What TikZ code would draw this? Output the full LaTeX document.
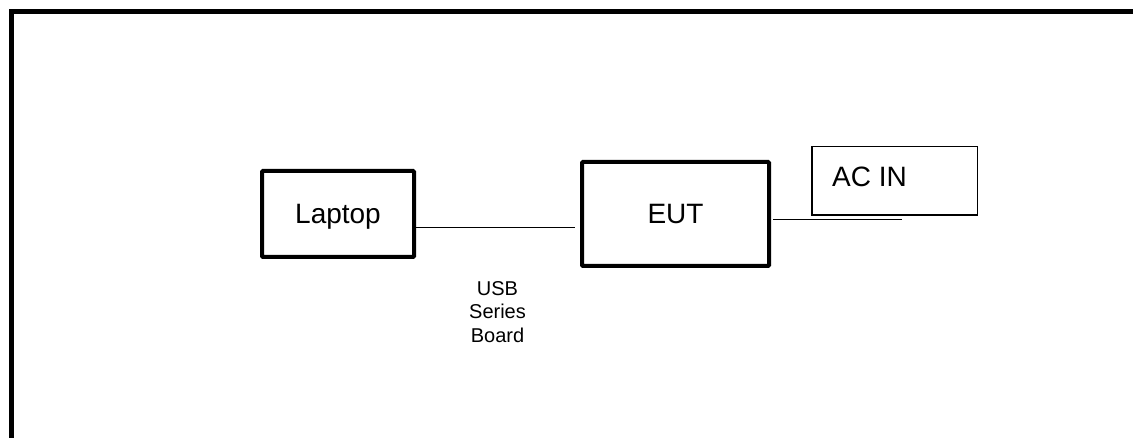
\documentclass[tikz,border=0pt]{standalone}
\usepackage{fontspec}
\setmainfont{Liberation Sans}
\begin{document}
\begin{tikzpicture}[x=1pt,y=1pt,
  heavybox/.style={draw, line width=4pt, rounded corners=1pt, inner sep=0pt},
  lightbox/.style={draw, line width=1.5pt, inner sep=0pt},
  bigtext/.style={font=\fontsize{28}{32}\selectfont},
  wire/.style={line width=1pt},
  frameline/.style={line width=5pt}]
\useasboundingbox (0,0) rectangle (1133,438);
% outer frame (left and top)
\coordinate (fbl) at (11.5,0);
\coordinate (ftl) at (11.5,426.5);
\coordinate (ftr) at (1133,426.5);
\draw[frameline] (fbl) -- (ftl) -- (ftr);
% boxes
\node[heavybox, bigtext, minimum width=152pt, minimum height=86pt, text height=20pt, text depth=0pt] (laptop) at (338,224) {Laptop};
\node[heavybox, bigtext, minimum width=187pt, minimum height=104pt, text height=20pt, text depth=0pt] (eut) at (675.5,224) {EUT};
\node[lightbox, minimum width=165.5pt, minimum height=68.5pt] (acin) at (894.5,257) {};
\node[bigtext, anchor=base west, inner sep=0pt] (acinlabel) at ([shift={(21,-41)}]acin.north west) {AC IN};
% connectors
\draw[wire, shorten >=5pt] ([yshift=-14pt]laptop.east) -- ([yshift=-14pt]eut.west);
\coordinate (acend) at (902,218);
\draw[wire, shorten <=2pt] ([yshift=-6pt]eut.east) -- (acend);
% label
\node[anchor=north, inner sep=0pt, align=center, font=\fontsize{20}{23.5}\selectfont] (usb) at (497.5,157) {USB\\Series\\Board};
\end{tikzpicture}
\end{document}
